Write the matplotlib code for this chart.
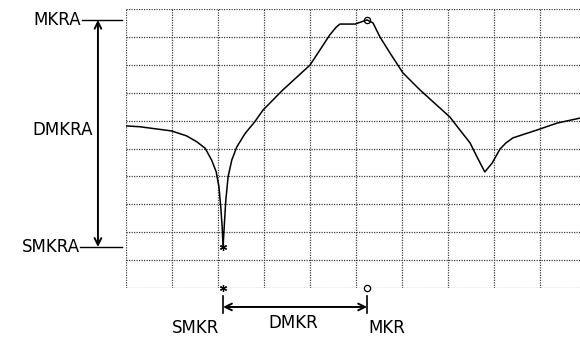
import matplotlib.pyplot as plt

# trace, in grid divisions (x 0-10 left to right, y 0-10 bottom to top)
trace_x = [0.0, 0.30, 0.99, 1.32, 1.54, 1.72, 1.86, 1.96, 2.02, 2.06, 2.09, 2.11, 2.14, 2.17,
           2.22, 2.30, 2.41, 2.59, 2.80, 2.98, 3.41, 4.0, 4.43, 4.57, 4.65, 4.98, 5.24, 5.37,
           5.52, 5.74, 6.02, 6.39, 7.04, 7.26, 7.48, 7.63, 7.80, 7.96, 8.13, 8.26, 8.41, 8.93,
           9.37, 9.87]
trace_y = [5.81, 5.78, 5.63, 5.45, 5.24, 5.01, 4.59, 4.17, 3.63, 2.91, 2.20, 1.48, 2.33, 3.15,
           3.99, 4.59, 5.06, 5.54, 5.96, 6.38, 7.10, 7.99, 9.07, 9.35, 9.46, 9.46, 9.61, 9.50,
           9.00, 8.42, 7.71, 7.10, 6.13, 5.66, 5.20, 4.70, 4.16, 4.48, 4.98, 5.20, 5.38, 5.66,
           5.91, 6.09]

mkr_x, mkr_y = 5.24, 9.61     # main marker (peak)
smkr_x, smkr_y = 2.11, 1.47   # secondary marker (dip)

fig = plt.figure(figsize=(5.8, 3.41), dpi=100)
ax = fig.add_axes([126 / 580, 53 / 341, 460 / 580, 279 / 341])
ax.set_xlim(0, 10)
ax.set_ylim(0, 10)
ax.set_xticks(range(11))
ax.set_yticks(range(11))
ax.tick_params(length=0, labelbottom=False, labelleft=False)
for s in ax.spines.values():
    s.set_visible(False)
ax.grid(True, color='0.25', linestyle=(0, (1, 1)), linewidth=0.9)

ax.plot(trace_x, trace_y, color='black', lw=1.1)

star = (6, 2, 0)
ax.plot([smkr_x], [smkr_y], marker=star, color='black', ms=5, mew=0.9)
ax.plot([smkr_x], [0], marker=star, color='black', ms=5, mew=0.9, clip_on=False)
ax.plot([mkr_x], [mkr_y], marker='o', mfc='none', mec='black', ms=4.5, mew=0.9)
ax.plot([mkr_x], [0], marker='o', mfc='none', mec='black', ms=4.5, mew=0.9, clip_on=False)

fs = 12
# amplitude annotations on the left
ax.plot([-0.96, -0.09], [mkr_y, mkr_y], color='black', lw=1, clip_on=False)
ax.plot([-1.0, -0.09], [smkr_y, smkr_y], color='black', lw=1, clip_on=False)
ax.annotate('', xy=(-0.61, mkr_y), xytext=(-0.61, smkr_y), annotation_clip=False,
            arrowprops=dict(arrowstyle='<->', color='black', lw=1.4,
                            mutation_scale=12, shrinkA=0, shrinkB=0))
ax.text(-0.97, mkr_y, 'MKRA', ha='right', va='center', fontsize=fs, clip_on=False)
ax.text(-1.01, smkr_y, 'SMKRA', ha='right', va='center', fontsize=fs, clip_on=False)
ax.text(-0.72, 5.66, 'DMKRA', ha='right', va='center', fontsize=fs, clip_on=False)

# frequency annotations at the bottom
ax.plot([smkr_x, smkr_x], [-0.29, -0.9], color='black', lw=1.2, clip_on=False)
ax.plot([mkr_x, mkr_x], [-0.29, -0.9], color='black', lw=1.2, clip_on=False)
ax.annotate('', xy=(mkr_x, -0.68), xytext=(smkr_x, -0.68), annotation_clip=False,
            arrowprops=dict(arrowstyle='<->', color='black', lw=1.4,
                            mutation_scale=12, shrinkA=0, shrinkB=0))
ax.text(1.52, -1.43, 'SMKR', ha='center', va='center', fontsize=fs, clip_on=False)
ax.text(3.63, -1.25, 'DMKR', ha='center', va='center', fontsize=fs, clip_on=False)
ax.text(5.26, -1.43, 'MKR', ha='left', va='center', fontsize=fs, clip_on=False)

fig.savefig('out.png', dpi=100)
